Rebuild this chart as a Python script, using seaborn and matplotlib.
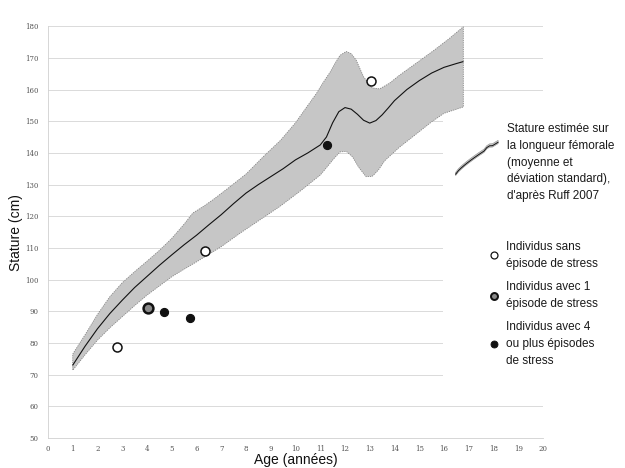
import numpy as np
import pandas as pd
import matplotlib.pyplot as plt
import seaborn as sns
from matplotlib.lines import Line2D
from matplotlib.patches import Polygon, Rectangle
from matplotlib.legend_handler import HandlerBase

sns.set_theme(style="whitegrid")
plt.rcParams['font.family'] = ['Liberation Sans', 'DejaVu Sans']

# Stature moyenne (Ruff 2007)
age_moy = [1, 1.5, 2, 2.5, 3, 3.5, 4, 4.5, 5, 5.5, 6, 6.5, 7, 7.5, 8, 8.5, 9, 9.5,
           10, 10.5, 11, 11.25, 11.5, 11.75, 12.0, 12.25, 12.5, 12.75, 13.0, 13.25,
           13.5, 13.75, 14, 14.5, 15, 15.5, 16, 16.5, 16.77]
moyenne = [73, 79, 84.5, 89.3, 93.5, 97.5, 101, 104.5, 107.8, 111, 114, 117.3, 120.5,
           124, 127.3, 130, 132.5, 135, 137.8, 140, 142.5, 145, 149.5, 153, 154.3,
           153.8, 152.2, 150.3, 149.4, 150.2, 152, 154.2, 156.5, 160, 162.8, 165.2,
           167, 168.2, 168.8]

# moyenne + deviation standard
age_haut = [1, 1.5, 2, 2.5, 3, 3.5, 4, 4.5, 5, 5.5, 5.85, 6.3, 6.7, 7.35, 8, 8.7, 9.4,
            10, 10.5, 10.85, 11.1, 11.4, 11.6, 11.8, 12.05, 12.25, 12.45, 12.75, 13.1,
            13.4, 13.8, 14.2, 15, 15.6, 16.2, 16.78]
haut = [76.5, 82.6, 89, 94.6, 99, 102.5, 105.8, 109.2, 113, 117.5, 121, 123.2, 125.4,
        129.3, 133.3, 138.8, 144, 149.5, 155, 158.8, 162, 165.5, 168.3, 170.8, 172,
        171.3, 169.3, 164, 160.5, 160.2, 162, 164.5, 169, 172.4, 176, 179.8]

# moyenne - deviation standard
age_bas = [1, 1.5, 2, 2.5, 3, 3.5, 4, 4.5, 5, 5.5, 6, 6.5, 7, 7.75, 8.55, 9.35, 10.2,
           10.6, 11, 11.3, 11.55, 11.8, 12.05, 12.3, 12.55, 12.85, 13.1, 13.35, 13.6,
           14.2, 14.9, 15.5, 16, 16.78]
bas = [71.4, 76.3, 80.9, 84.8, 88.3, 91.8, 95.1, 98, 100.9, 103.3, 105.6, 108, 110.4,
       114.6, 118.8, 123, 128, 130.5, 133, 135.8, 138.2, 140.3, 140.5, 138.8, 135.5,
       132.5, 132.6, 134.6, 137.5, 141.8, 146.1, 149.8, 152.5, 154.5]

# individus
ind_age = [2.8, 6.33, 13.05, 4.05, 4.69, 5.74, 11.26]
ind_stature = [78.8, 109, 162.7, 90.9, 89.9, 88.0, 142.4]
ind_groupe = ['sans', 'sans', 'sans', 'un', 'quatre', 'quatre', 'quatre']

lab_bande = "Stature estimée sur\nla longueur fémorale\n(moyenne et\ndéviation standard),\nd'après Ruff 2007"
lab_groupes = {'sans': "Individus sans\népisode de stress",
               'un': "Individus avec 1\népisode de stress",
               'quatre': "Individus avec 4\nou plus épisodes\nde stress"}

df = pd.DataFrame({'age': ind_age, 'stature': ind_stature, 'groupe': ind_groupe})
styles = {'sans': dict(fc='white', lw=1.1, s=42),
          'un': dict(fc='#8a8a8a', lw=1.8, s=50),
          'quatre': dict(fc='#111111', lw=0.8, s=34)}

fig = plt.figure(figsize=(6.25, 4.68), dpi=100)
ax = fig.add_axes([0.0768, 0.0641, 0.792, 0.880])

# bande de deviation
ax.fill(np.r_[age_haut, age_bas[::-1]], np.r_[haut, bas[::-1]],
        facecolor='#c6c6c6', edgecolor='#858585', lw=0.6, ls=(0, (1.5, 1.2)), zorder=1.5)
sns.lineplot(x=age_moy, y=moyenne, color='#111111', lw=0.8, ax=ax, zorder=2)

for g, st in styles.items():
    sub = df[df['groupe'] == g]
    sns.scatterplot(data=sub, x='age', y='stature', color=st['fc'], edgecolor='#111111',
                    linewidth=st['lw'], s=st['s'], legend=False, ax=ax, zorder=3)

ax.set_xlim(0, 20)
ax.set_ylim(50, 180)
ax.set_xticks(range(0, 21))
ax.set_yticks(range(50, 181, 10))
ax.grid(axis='y', color='#d4d4d4', lw=0.6)
ax.grid(axis='x', visible=False)
for s in ['top', 'right']:
    ax.spines[s].set_visible(False)
for s in ['left', 'bottom']:
    ax.spines[s].set_color('#d0d0d0')
    ax.spines[s].set_linewidth(0.6)
ax.tick_params(axis='both', labelsize=5, colors='#555555', length=0)
ax.tick_params(axis='y', pad=7)
ax.tick_params(axis='x', pad=5)
for t in ax.get_xticklabels() + ax.get_yticklabels():
    t.set_family('DejaVu Serif')

ax.set_xlabel('Age (années)', fontsize=10, color='#111111', labelpad=0)
ax.set_ylabel('Stature (cm)', fontsize=10, color='#111111', labelpad=1)

# fond blanc de la legende (masque les lignes de grille)
ax.add_patch(Rectangle((0.798, 0.116), 0.202, 0.70, transform=ax.transAxes,
                       facecolor='white', edgecolor='none', zorder=0.8))


class BandHandler(HandlerBase):
    def create_artists(self, legend, orig_handle, xd, yd, width, height, fontsize, trans):
        t = np.linspace(0, 1, 16)
        x = -xd + width * t
        y = -yd + 4 + height * t ** 0.8
        y = y + np.where((t > 0.7) & (t < 0.85), 1.2, 0)
        poly = Polygon(np.c_[np.r_[x, x[::-1]], np.r_[y + 1.4, (y - 1.0)[::-1]]],
                       closed=True, facecolor='#c6c6c6', edgecolor='#909090', lw=0.4,
                       transform=trans)
        line = Line2D(x, y, color='#111111', lw=0.7, transform=trans)
        return [poly, line]


h_band = Rectangle((0, 0), 1, 1)
leg_kw = dict(loc='upper left', bbox_transform=fig.transFigure, frameon=True,
              facecolor='white', edgecolor='none', framealpha=1, fancybox=False,
              fontsize=8.5, borderpad=0.4, labelcolor='#1a1a1a')
leg1 = ax.legend([h_band], [lab_bande], handler_map={h_band: BandHandler()},
                 bbox_to_anchor=(445 / 625, 1 - 112 / 468), handlelength=3.6,
                 handleheight=3.8, handletextpad=0.75, **leg_kw)
for t in leg1.get_texts():
    t.set_linespacing(1.55)
ax.add_artist(leg1)

handles = [Line2D([], [], ls='none', marker='o', mfc=styles[g]['fc'], mec='#111111',
                  ms=5, mew=styles[g]['lw'] * 0.8) for g in styles]
leg2 = ax.legend(handles, [lab_groupes[g] for g in styles],
                 bbox_to_anchor=(477 / 625, 1 - 230 / 468), handlelength=1.0,
                 handletextpad=0.55, labelspacing=0.95, **leg_kw)
for t in leg2.get_texts():
    t.set_linespacing(1.55)

plt.savefig('out.png', dpi=100)
plt.close()
